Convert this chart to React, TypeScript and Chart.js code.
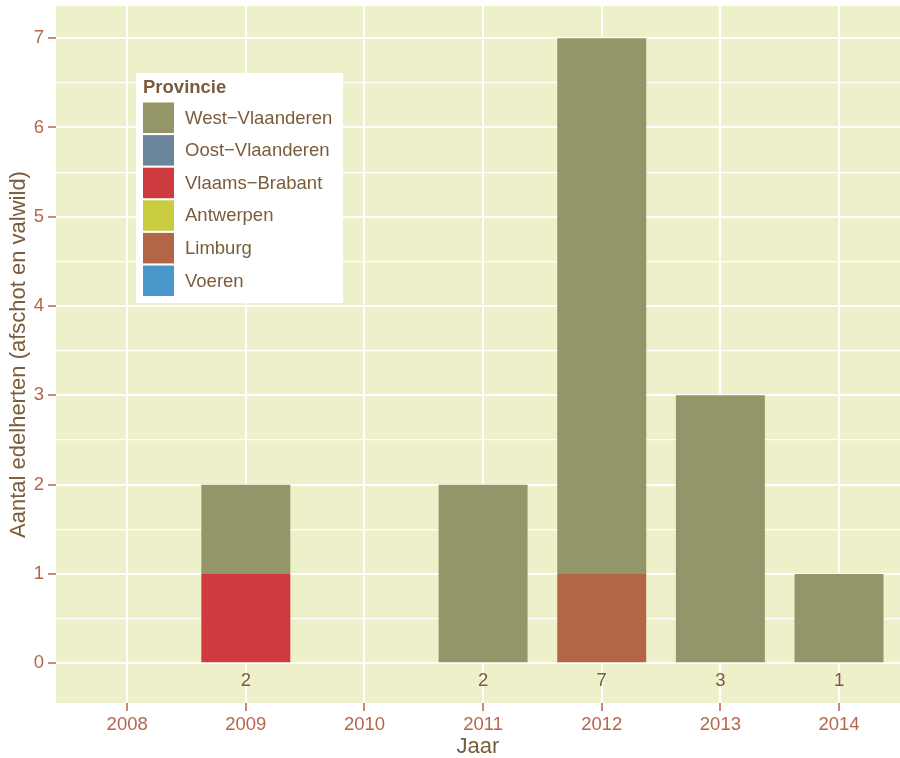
import React, { useEffect, useRef } from 'react';
import { Chart, registerables } from 'chart.js';

Chart.register(...registerables);

// ---- data ----
const years = ['2008', '2009', '2010', '2011', '2012', '2013', '2014'];
const provinces = ['West−Vlaanderen', 'Oost−Vlaanderen', 'Vlaams−Brabant', 'Antwerpen', 'Limburg', 'Voeren'];
const westVlaanderen = [0, 1, 0, 2, 6, 3, 1];
const oostVlaanderen = [0, 0, 0, 0, 0, 0, 0];
const vlaamsBrabant = [0, 1, 0, 0, 0, 0, 0];
const antwerpen = [0, 0, 0, 0, 0, 0, 0];
const limburg = [0, 0, 0, 0, 1, 0, 0];
const voeren = [0, 0, 0, 0, 0, 0, 0];
const provinceColors = ['#95956A', '#6A8499', '#CE3B3E', '#C9CC3F', '#B36646', '#4A98CB'];
const yMajorTicks = [0, 1, 2, 3, 4, 5, 6, 7];
const totalLabelY = -0.2;

const seriesValues = [westVlaanderen, oostVlaanderen, vlaamsBrabant, antwerpen, limburg, voeren];

const PANEL = '#EDF0C9';
const TICK = '#B5654A';
const TEXT = '#7A5C3B';
const FONT = '"Liberation Sans", Arial, Helvetica, sans-serif';

export default function App() {
  const ref = useRef<HTMLCanvasElement>(null);

  useEffect(() => {
    document.body.style.margin = '0';
    const canvas = ref.current!;
    const totals = years.map((_, i) => seriesValues.reduce((s, arr) => s + arr[i], 0));

    // ggplot stacks the first level on top -> reverse for Chart.js stacking
    const datasets = provinces
      .map((name, k) => ({
        label: name,
        data: seriesValues[k].map((v, i) => ({ x: i, y: v })).filter((p) => p.y > 0),
        backgroundColor: provinceColors[k],
        borderWidth: 0,
        categoryPercentage: 1,
        barPercentage: 0.75,
      }))
      .reverse();

    const minorTicks: number[] = [];
    for (let i = 0; i < yMajorTicks.length; i++) {
      minorTicks.push(yMajorTicks[i]);
      if (i < yMajorTicks.length - 1) minorTicks.push(yMajorTicks[i] + 0.5);
    }

    const bgPlugin = {
      id: 'panelBg',
      beforeDraw(chart: any) {
        const { ctx, chartArea } = chart;
        ctx.save();
        ctx.fillStyle = PANEL;
        ctx.fillRect(chartArea.left, chartArea.top, chartArea.right - chartArea.left, chartArea.bottom - chartArea.top);
        ctx.restore();
      },
    };

    const totalsPlugin = {
      id: 'totals',
      afterDatasetsDraw(chart: any) {
        const { ctx } = chart;
        const xs = chart.scales.x;
        const ys = chart.scales.y;
        ctx.save();
        ctx.font = `18.5px ${FONT}`;
        ctx.fillStyle = TEXT;
        ctx.textAlign = 'center';
        ctx.textBaseline = 'middle';
        totals.forEach((t, i) => {
          if (t > 0) ctx.fillText(String(t), xs.getPixelForValue(i), ys.getPixelForValue(totalLabelY));
        });
        ctx.restore();
      },
    };

    const legendPlugin = {
      id: 'innerLegend',
      afterDraw(chart: any) {
        const { ctx, chartArea } = chart;
        const bx = chartArea.left + 80;
        const by = chartArea.top + 67;
        ctx.save();
        ctx.fillStyle = '#FFFFFF';
        ctx.fillRect(bx, by, 207, 230);
        ctx.fillStyle = TEXT;
        ctx.font = `bold 18.5px ${FONT}`;
        ctx.textAlign = 'left';
        ctx.textBaseline = 'alphabetic';
        ctx.fillText('Provincie', bx + 7, by + 19.5);
        ctx.font = `18.5px ${FONT}`;
        ctx.textBaseline = 'middle';
        provinces.forEach((name, k) => {
          const sy = by + 29.5 + k * 32.6;
          ctx.fillStyle = provinceColors[k];
          ctx.fillRect(bx + 7, sy, 31, 30.5);
          ctx.fillStyle = TEXT;
          ctx.fillText(name, bx + 49, sy + 16);
        });
        ctx.restore();
      },
    };

    const chart = new Chart(canvas, {
      type: 'bar',
      data: { datasets },
      plugins: [bgPlugin, totalsPlugin, legendPlugin],
      options: {
        animation: false,
        responsive: false,
        events: [],
        layout: { padding: { top: 6, right: 0, bottom: 0, left: 0 } },
        plugins: { legend: { display: false }, tooltip: { enabled: false } },
        scales: {
          x: {
            type: 'linear',
            stacked: true,
            offset: false,
            min: -0.6,
            max: 6.514,
            afterBuildTicks: (s: any) => {
              s.ticks = years.map((_, i) => ({ value: i }));
            },
            afterFit: (s: any) => {
              s.height = 55;
              s.paddingLeft = 0;
              s.paddingRight = 0;
            },
            border: { display: false },
            grid: {
              offset: false,
              color: '#FFFFFF',
              lineWidth: 2,
              drawTicks: true,
              tickLength: 8,
              tickColor: TICK,
              tickWidth: 1.5,
            },
            ticks: {
              color: TICK,
              font: { family: FONT, size: 18.5 },
              padding: 3,
              maxRotation: 0,
              autoSkip: false,
              callback: (v: any) => years[Math.round(Number(v))] ?? '',
            },
            title: {
              display: true,
              text: 'Jaar',
              color: TEXT,
              font: { family: FONT, size: 22, lineHeight: 1 },
              padding: { top: 0, bottom: 0 },
            },
          },
          y: {
            type: 'linear',
            stacked: true,
            min: -0.445,
            max: 7.36,
            afterBuildTicks: (s: any) => {
              s.ticks = minorTicks.map((v) => ({ value: v }));
            },
            afterFit: (s: any) => {
              s.width = 56;
              s.paddingTop = 0;
              s.paddingBottom = 0;
            },
            border: { display: false },
            grid: {
              color: '#FFFFFF',
              lineWidth: (c: any) => (Number.isInteger(c.tick?.value) ? 2 : 1.2),
              drawTicks: true,
              tickLength: 8,
              tickColor: (c: any) => (Number.isInteger(c.tick?.value) ? TICK : 'rgba(0,0,0,0)'),
              tickWidth: 1.5,
            },
            ticks: {
              color: TICK,
              font: { family: FONT, size: 18.5 },
              padding: 4,
              autoSkip: false,
              callback: (v: any) => (Number.isInteger(Number(v)) ? String(v) : ''),
            },
            title: {
              display: true,
              text: 'Aantal edelherten (afschot en valwild)',
              color: TEXT,
              font: { family: FONT, size: 22, lineHeight: 1 },
              padding: { top: 8, bottom: 0 },
            },
          },
        },
      } as any,
    });

    return () => chart.destroy();
  }, []);

  return <canvas ref={ref} width={900} height={758} style={{ display: 'block' }} />;
}
